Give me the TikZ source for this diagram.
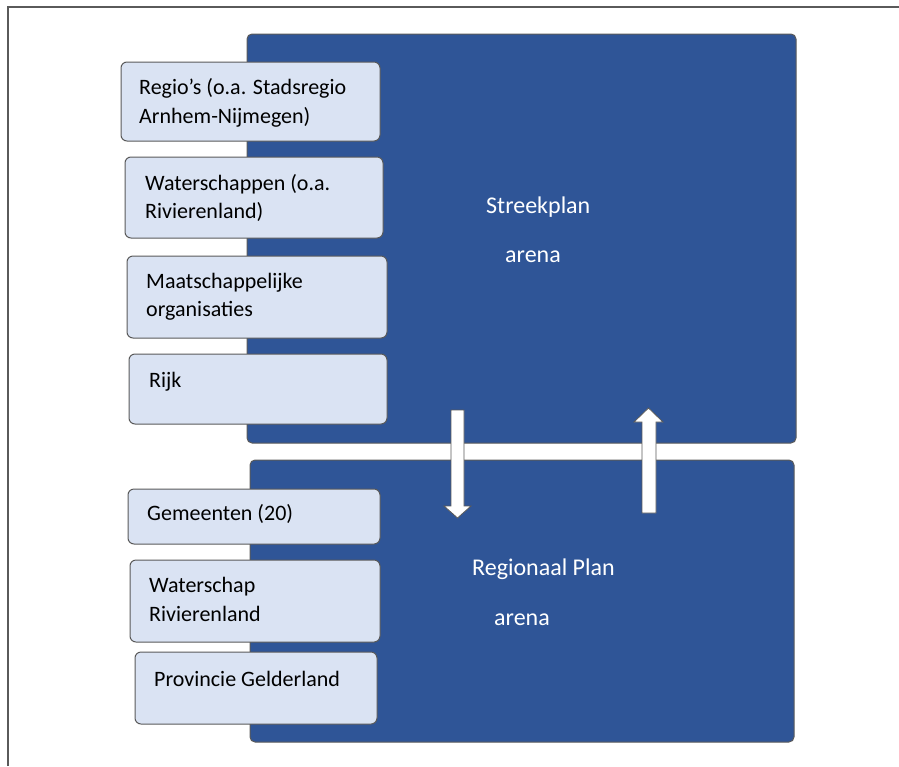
\documentclass[tikz,border=0pt]{standalone}
\usepackage{fontspec}
\setmainfont{Carlito}
\definecolor{arenablue}{HTML}{2F5597}
\definecolor{actorfill}{HTML}{DAE3F3}
\definecolor{edgegray}{HTML}{5A5A5A}
\tikzset{
  arena/.style={draw=edgegray, line width=1pt, fill=arenablue, rounded corners=5pt, inner sep=0pt, outer sep=0pt, anchor=north west},
  actor/.style={draw=edgegray, line width=1pt, fill=actorfill, rounded corners=6pt, inner sep=0pt, outer sep=0pt, anchor=north west},
  actortext/.style={anchor=base west, inner sep=0pt, font=\fontsize{22}{28}\selectfont, text=black},
  arenatext/.style={anchor=base west, inner sep=0pt, font=\fontsize{24}{29}\selectfont, text=white},
  flow/.style={draw=edgegray, line width=0.8pt, fill=white, line join=miter},
  frameline/.style={draw=edgegray, line width=1.2pt},
}
\begin{document}
\begin{tikzpicture}[x=1pt, y=-1pt]
\useasboundingbox (0,0) rectangle (899,766);
% outer frame (left and top edges visible)
\coordinate (fbl) at (8,766);
\coordinate (ftl) at (8,7);
\coordinate (ftr) at (899,7);
\draw[frameline] (fbl) -- (ftl) -- (ftr);

% arenas
\node[arena, minimum width=549, minimum height=409] (streek) at (247,34) {};
\node[arena, minimum width=544, minimum height=282] (regio) at (250,460) {};

% actor boxes
\node[actor, minimum width=259, minimum height=79] (a1) at (121,62) {};
\node[actor, minimum width=258, minimum height=81] (a2) at (125,157) {};
\node[actor, minimum width=260, minimum height=82] (a3) at (127,256) {};
\node[actor, minimum width=258, minimum height=70] (a4) at (129,354) {};
\node[actor, minimum width=252, minimum height=55] (b1) at (128,489) {};
\node[actor, minimum width=250, minimum height=82] (b2) at (130,560) {};
\node[actor, minimum width=242, minimum height=72] (b3) at (135,652) {};

% actor texts
\node[actortext] (t1a) at (139,94) {Regio’s (o.a. Stadsregio};
\node[actortext] (t1b) at (139,123) {Arnhem-Nijmegen)};
\node[actortext] (t2a) at (145,190) {Waterschappen (o.a.};
\node[actortext] (t2b) at (145,218) {Rivierenland)};
\node[actortext] (t3a) at (146,288) {Maatschappelijke};
\node[actortext] (t3b) at (146,316) {organisaties};
\node[actortext] (t4) at (149,387) {Rijk};
\node[actortext] (t5) at (147,520) {Gemeenten (20)};
\node[actortext] (t6a) at (149,592) {Waterschap};
\node[actortext] (t6b) at (149,621) {Rivierenland};
\node[actortext] (t7) at (154,686) {Provincie Gelderland};

% arena texts
\node[arenatext] (s1) at (486,213) {Streekplan};
\node[arenatext] (s2) at (505,262) {arena};
\node[arenatext] (r1) at (472,575) {Regionaal Plan};
\node[arenatext] (r2) at (494,625) {arena};

% block arrows
\draw[flow] (451,410) -- (464,410) -- (464,506) -- (471,506) -- (457.5,518) -- (444,506) -- (451,506) -- cycle;
\draw[flow] (642,513) -- (656,513) -- (656,422) -- (663,422) -- (648.5,408) -- (634,422) -- (642,422) -- cycle;
\end{tikzpicture}
\end{document}
